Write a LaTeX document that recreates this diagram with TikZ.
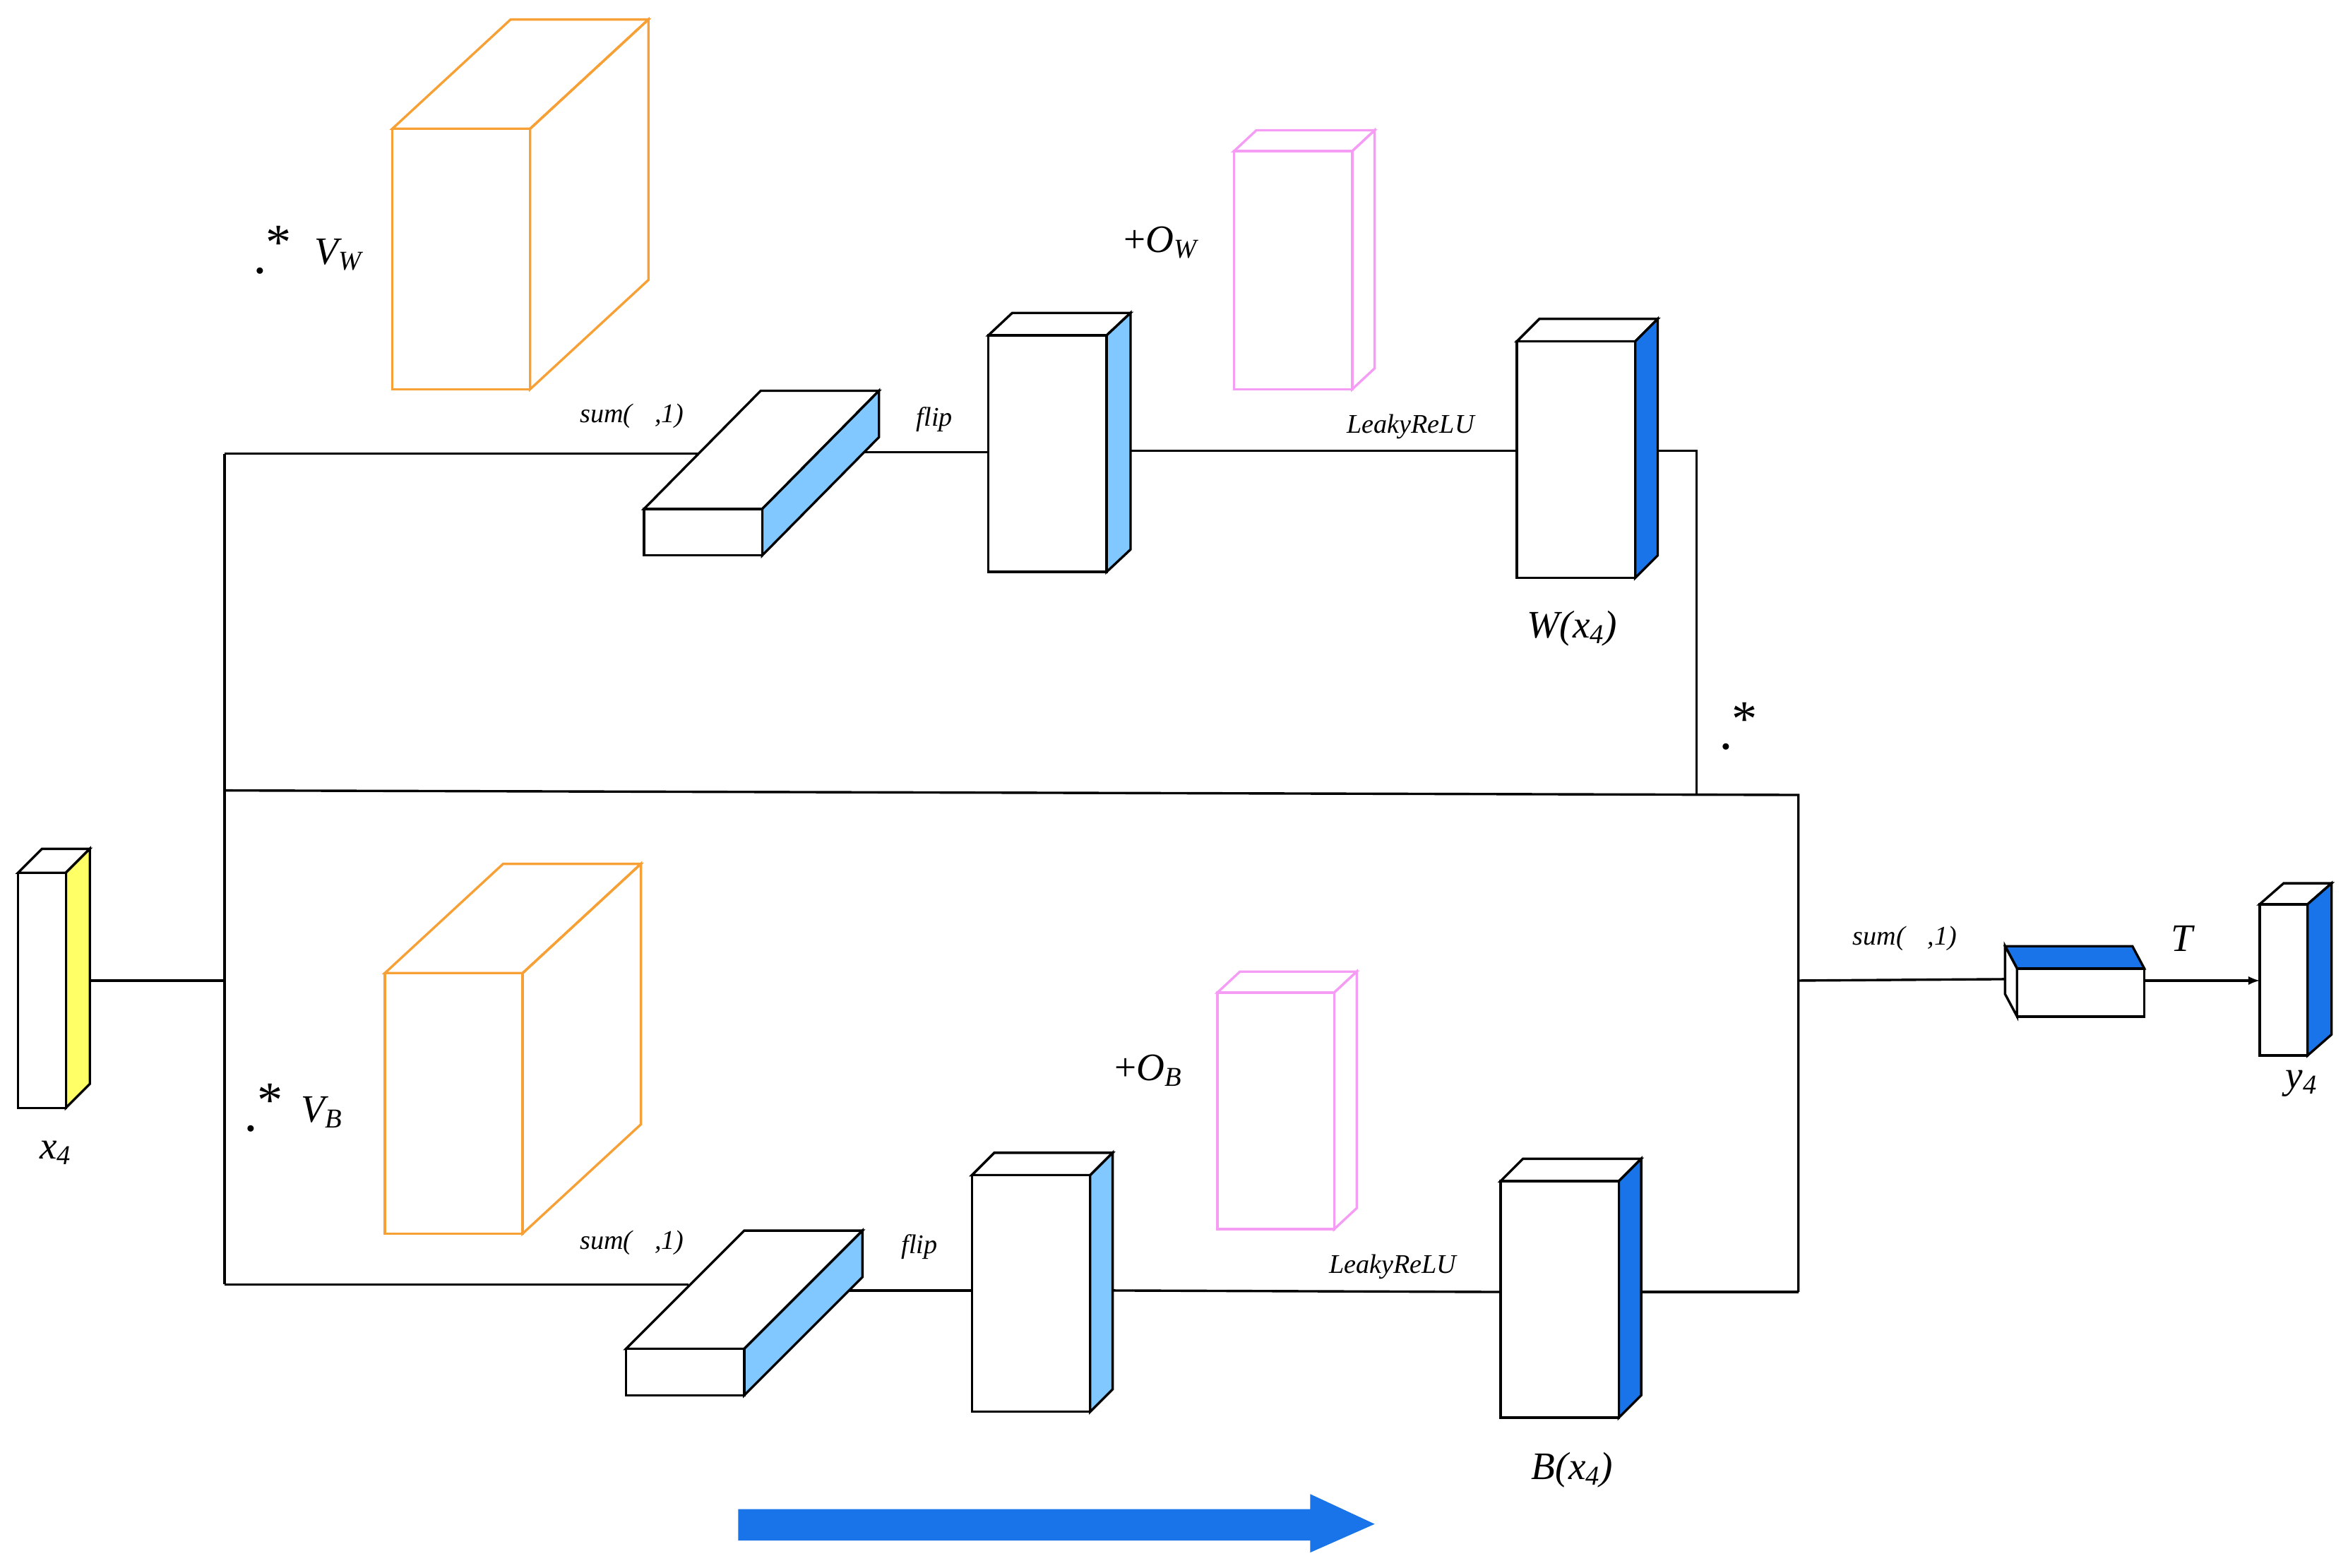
\documentclass[tikz,border=0pt]{standalone}
\usepackage{fontspec}
\setmainfont{Liberation Serif}
\newcommand\cub[9]{%
 \filldraw[draw=#9,fill=#8] (#1,#2)--(#1+#5,#2+#6)--(#3+#5,#2+#6)--(#3,#2)--cycle;
 \filldraw[draw=#9,fill=#7] (#3,#2)--(#3+#5,#2+#6)--(#3+#5,#4+#6)--(#3,#4)--cycle;
 \filldraw[draw=#9,fill=white] (#1,#2) rectangle (#3,#4);}
\newcommand\dotstar{\textbf{.}\raisebox{0.35em}{\fontsize{34}{34}\selectfont\upshape *}}
\definecolor{lb}{HTML}{80C8FF}
\definecolor{db}{HTML}{1874E8}
\definecolor{org}{HTML}{F7A035}
\definecolor{pk}{HTML}{F59CF5}
\definecolor{yl}{HTML}{FFFF66}
\begin{document}
\begin{tikzpicture}[x=1pt,y=-1pt,line width=1.6pt,
 lab/.style={font=\itshape\fontsize{18}{18}\selectfont,inner sep=0pt},
 big/.style={font=\itshape\fontsize{26}{26}\selectfont,inner sep=0pt},
 ln/.style={line width=1.6pt}]
\useasboundingbox (0,0) rectangle (1568,1047);
% lines
\coordinate (xo) at (44,655); \coordinate (sp) at (150,655);
\draw[ln] (xo)--(sp);
\draw[ln] (150,303)--(150,858);
\draw[ln] (150,303)--(470,303);
\draw[ln] (570,302)--(660,302);
\draw[ln] (755,301)--(1013,301);
\draw[ln] (1107,301)--(1133,301)--(1133,530);
\draw[ln] (150,528)--(1201,531)--(1201,863);
\draw[ln] (150,858)--(460,858);
\draw[ln] (558,862)--(649,862);
\draw[ln] (743,862)--(1002,863);
\draw[ln] (1096,863)--(1201,863);
\draw[ln] (1201,655)--(1343,654);
\draw[ln,-latex] (1432,655)--(1509,655);
% cuboids
\cub{12}{583}{44}{740}{16}{-16}{yl}{white}{black}
\cub{262}{86}{354}{260}{79}{-73}{none}{none}{org}
\cub{257}{650}{349}{824}{79}{-73}{none}{none}{org}
\cub{430}{340}{509}{371}{78}{-79}{lb}{white}{black}
\cub{660}{224}{739}{382}{16}{-15}{lb}{white}{black}
\cub{824}{101}{903}{260}{15}{-14}{white}{white}{pk}
\cub{1013}{228}{1092}{386}{15}{-15}{db}{white}{black}
\cub{418}{901}{497}{932}{79}{-79}{lb}{white}{black}
\cub{649}{785}{728}{943}{15}{-15}{lb}{white}{black}
\cub{813}{663}{891}{821}{15}{-14}{white}{white}{pk}
\cub{1002}{789}{1081}{947}{15}{-15}{db}{white}{black}
\cub{1509}{604}{1541}{705}{16}{-14}{db}{white}{black}
% output small box (top to the left)
\filldraw[fill=db] (1347,647)--(1339,632)--(1424,632)--(1432,647)--cycle;
\filldraw[fill=white] (1347,647)--(1339,632)--(1339,664)--(1347,679)--cycle;
\filldraw[fill=white] (1347,647) rectangle (1432,679);
% blue arrow
\fill[db] (493,1008)--(875,1008)--(875,998)--(918,1018)--(875,1037)--(875,1029)--(493,1029)--cycle;
% labels
\node[lab] at (422,278) {sum(\;\;\;,1)};
\node[lab] at (624,280) {flip};
\node[lab] at (942,285) {LeakyReLU};
\node[lab] at (422,830) {sum(\;\;\;,1)};
\node[lab] at (614,833) {flip};
\node[lab] at (930,846) {LeakyReLU};
\node[lab] at (1272,627) {sum(\;\;\;,1)};
\node[big] at (1050,420) {W(x\textsubscript{4})};
\node[big] at (1050,982) {B(x\textsubscript{4})};
\node[big] at (1162,485) {\dotstar};
\node[big] at (183,167) {\dotstar};
\node[big] at (226,170) {V\textsubscript{W}};
\node[big] at (177,740) {\dotstar};
\node[big] at (215,743) {V\textsubscript{B}};
\node[big] at (775,162) {\upshape+\itshape O\textsubscript{W}};
\node[big] at (767,715) {\upshape+\itshape O\textsubscript{B}};
\node[big] at (1457,627) {T};
\node[big] at (1537,724) {y\textsubscript{4}};
\node[big] at (37,770) {x\textsubscript{4}};
\end{tikzpicture}
\end{document}
